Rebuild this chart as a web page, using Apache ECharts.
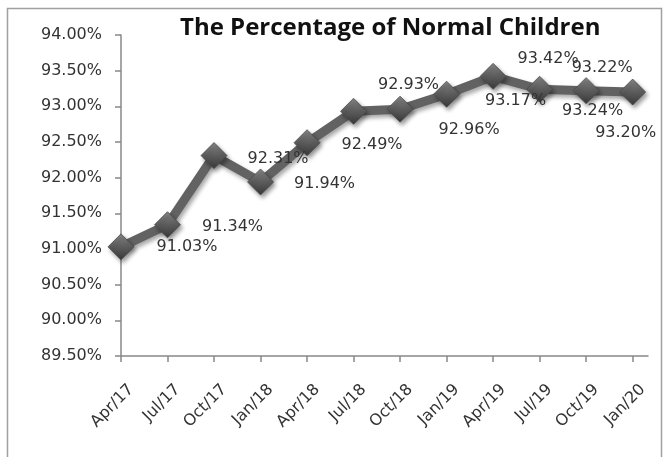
<!DOCTYPE html>
<html><head><meta charset="utf-8">
<script src="https://cdn.jsdelivr.net/npm/echarts@6/dist/echarts.min.js"></script>
<style>html,body{margin:0;padding:0;background:#fff}#c{width:668px;height:457px}</style>
</head><body><div id="c"></div>
<script>
const chartTitle = 'The Percentage of Normal Children';
const categories = ['Apr/17','Jul/17','Oct/17','Jan/18','Apr/18','Jul/18','Oct/18','Jan/19','Apr/19','Jul/19','Oct/19','Jan/20'];
const values = [91.03, 91.34, 92.31, 91.94, 92.49, 92.93, 92.96, 93.17, 93.42, 93.24, 93.22, 93.20];
const yMin = 89.5, yMax = 94.0, yStep = 0.5;

// label placement (style only): pixel offsets of each data label from its marker
const labelOffsets = [[66,0],[65,2],[64,3],[64,2],[65,2],[55,-26],[69,21],[69,7],[55,-18],[53,22],[16,-23],[-7,41]];

const FONT = '"DejaVu Sans", Verdana, sans-serif';
const AXIS_COLOR = '#888';
const idx = categories.map((_, i) => i);
const LABEL_SHIFT = 0.22;

const chart = echarts.init(document.getElementById('c'), null, {renderer: 'canvas'});
chart.setOption({
  animation: false,
  backgroundColor: '#fff',
  title: {
    text: chartTitle, left: 175, top: 11,
    textStyle: {fontFamily: 'Open Sans', fontWeight: 'bold', fontSize: 24, color: '#111'}
  },
  grid: {left: 121, right: 20, top: 35, bottom: 101},
  xAxis: {
    type: 'value', min: 0, max: categories.length - 1 + 0.33,
    axisLine: {show: true, lineStyle: {color: AXIS_COLOR, width: 1.5}},
    axisTick: {show: true, length: 6, customValues: idx, lineStyle: {color: AXIS_COLOR, width: 1.5}},
    axisLabel: {
      customValues: idx.map(i => i + LABEL_SHIFT),
      formatter: v => categories[Math.round(v - LABEL_SHIFT)] || '',
      rotate: 45, margin: 31, fontFamily: FONT, fontSize: 16, color: '#333'
    },
    splitLine: {show: false}
  },
  yAxis: {
    type: 'value', min: yMin, max: yMax, interval: yStep,
    axisLine: {show: true, lineStyle: {color: AXIS_COLOR, width: 1.5}},
    axisTick: {show: true, length: 6, lineStyle: {color: AXIS_COLOR, width: 1.5}},
    axisLabel: {formatter: v => v.toFixed(2) + '%', margin: 19, fontFamily: FONT, fontSize: 16, color: '#333'},
    splitLine: {show: false}
  },
  series: [{
    type: 'line',
    data: values.map((v, i) => ({value: [i, v], label: {offset: labelOffsets[i]}})),
    symbol: 'diamond', symbolSize: 26,
    lineStyle: {color: '#626262', width: 9, shadowColor: 'rgba(0,0,0,0.35)', shadowBlur: 4, shadowOffsetX: 2, shadowOffsetY: 3},
    itemStyle: {
      color: new echarts.graphic.LinearGradient(0, 0, 0, 1, [
        {offset: 0, color: '#878787'}, {offset: 0.5, color: '#5c5c5c'}, {offset: 1, color: '#383838'}
      ]),
      borderColor: '#4a4a4a', borderWidth: 0.8,
      shadowColor: 'rgba(0,0,0,0.4)', shadowBlur: 4, shadowOffsetX: 2, shadowOffsetY: 3
    },
    label: {
      show: true, position: 'inside',
      formatter: p => p.value[1].toFixed(2) + '%',
      fontFamily: FONT, fontSize: 16, color: '#333'
    },
    emphasis: {disabled: true}
  }],
  graphic: [{
    type: 'rect', silent: true, z: -1,
    shape: {x: 7.5, y: 8.5, width: 654, height: 470},
    style: {fill: null, stroke: '#a0a0a0', lineWidth: 1.5}
  }]
});
</script>
</body></html>
